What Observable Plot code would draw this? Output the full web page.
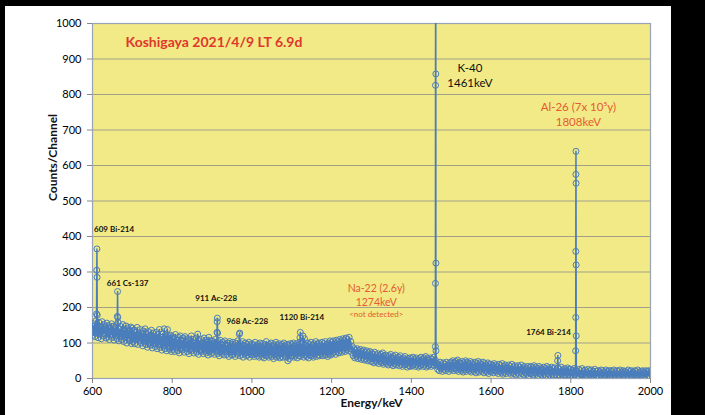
<!DOCTYPE html>
<html>
<head>
<meta charset="utf-8">
<script src="https://cdn.jsdelivr.net/npm/d3@7"></script>
<script src="https://cdn.jsdelivr.net/npm/@observablehq/plot@0.6"></script>
<style>
  html, body { margin: 0; padding: 0; background: #000; }
  body { width: 705px; height: 415px; overflow: hidden; position: relative; }
  #card { position: absolute; left: 5px; top: 6px; width: 666px; height: 409px; background: #fff; }
  svg { font-family: Lato, "Noto Sans", sans-serif; }
</style>
</head>
<body>
<div id="card"></div>
<script>
// ---- Data ----
const energyStep = 4;        // keV between samples within one array
const evenStart = 600;       // keV of first sample in baselineEven
const oddStart = 602;        // keV of first sample in baselineOdd
const baselineEven = [
  // 600-696
  155,148,162,150,158,145,160,152,146,156,149,142,154,147,140,151,158,138,146,152,136,148,142,134,145,
  // 700-796
  142,136,130,144,128,138,126,134,140,124,132,120,136,128,118,130,124,138,116,126,140,120,138,118,122,
  // 800-896
  118,112,124,108,116,120,106,114,118,104,112,108,120,110,102,114,125,106,110,100,114,108,104,116,106,
  // 900-996
  106,100,110,98,104,108,96,102,106,94,100,104,96,102,92,100,106,94,98,104,92,100,96,102,94,
  // 1000-1096
  98,94,102,92,96,100,90,98,94,104,92,96,100,90,96,102,94,98,92,96,100,90,96,94,98,
  // 1100-1196
  96,100,92,98,94,102,96,120,112,94,100,96,102,94,98,104,96,100,94,102,98,104,96,100,106,
  // 1200-1296
  102,106,100,108,104,110,106,112,108,114,110,116,104,90,84,80,84,78,82,76,80,74,78,72,76,
  // 1300-1396
  72,68,74,66,70,64,68,72,62,66,60,64,68,58,62,66,56,60,64,54,58,62,52,56,58,
  // 1400-1496
  56,60,54,58,52,56,60,54,58,62,56,52,58,54,60,52,44,40,46,38,44,40,46,38,44,
  // 1500-1596
  46,50,44,48,52,46,42,48,44,50,46,42,48,44,40,46,42,48,44,40,46,42,38,44,40,
  // 1600-1696
  40,36,42,38,34,40,36,42,34,38,32,38,34,40,32,36,30,36,32,38,30,34,28,34,30,
  // 1700-1796
  34,30,36,32,28,34,30,26,32,28,34,30,26,32,28,30,24,30,26,32,24,28,24,30,26,
  // 1800-1896
  26,22,28,24,20,26,22,28,20,24,18,26,22,24,20,26,20,22,18,24,22,18,24,20,22,
  // 1900-2000
  22,20,24,18,22,20,24,18,22,20,18,24,20,22,18,22,20,24,18,20,22,18,22,20,22,
  20
];
const baselineOdd = [
  // 602-698
  122,118,128,115,125,112,120,126,114,118,110,124,116,108,120,112,106,118,110,104,115,100,112,106,98,
  // 702-798
  104,98,110,96,106,100,92,104,96,88,100,94,86,98,90,84,96,88,80,92,84,78,90,82,76,
  // 802-898
  82,76,88,78,72,84,80,74,86,76,70,82,78,72,84,74,68,80,76,70,78,72,66,76,70,
  // 902-998
  74,68,78,70,64,74,70,66,76,68,62,72,66,70,62,68,74,64,68,60,70,64,66,60,68,
  // 1002-1098
  66,62,70,64,60,68,62,58,66,64,60,68,62,56,66,60,64,58,62,60,66,60,50,56,64,
  // 1102-1198
  64,60,66,58,64,62,68,60,66,62,58,66,64,60,68,62,66,64,70,64,68,66,62,70,66,
  // 1202-1298
  70,74,68,76,72,78,74,80,76,82,78,84,74,64,58,62,56,60,54,58,52,56,50,54,48,
  // 1302-1398
  48,44,50,46,42,48,44,40,46,42,38,44,40,36,42,38,44,36,40,34,38,42,32,36,34,
  // 1402-1498
  36,40,34,38,32,36,40,34,38,32,36,40,34,38,36,40,26,22,28,20,26,22,28,20,26,
  // 1502-1598
  26,22,28,24,20,26,22,18,24,20,26,22,18,24,20,16,22,18,24,20,16,22,18,14,20,
  // 1602-1698
  20,16,22,18,14,20,16,12,18,14,20,16,12,18,14,10,16,12,18,14,10,16,12,8,14,
  // 1702-1798
  14,10,16,12,8,14,10,6,12,8,14,10,6,12,8,12,8,10,6,12,8,10,6,10,8,
  // 1802-1898
  8,6,10,4,8,6,10,6,4,8,6,10,4,8,6,4,8,6,10,4,6,8,4,6,8,
  // 1902-1998
  6,4,8,4,6,8,4,6,8,4,6,4,8,6,4,6,8,4,6,8,4,6,4,8,6
];
// peak channels (energy keV, counts)
const peakEnergy = [
  610.3, 610.7, 611.1, 611.5, 611.9,
  662.3, 662.9, 663.5,
  912.3, 912.8, 913.3, 913.8,
  968.5, 969.3,
  1120.6, 1121.4,
  1460.2, 1460.4, 1460.6, 1460.9, 1461.2, 1461.4, 1461.6, 1461.8,
  1767.0, 1767.6,
  1812.2, 1812.4, 1812.6, 1812.8, 1813.0, 1813.2, 1813.4, 1813.6
];
const peakCounts = [
  182, 305, 365, 285, 178,
  175, 245, 172,
  130, 160, 170, 128,
  125, 128,
  115, 130,
  90, 268, 826, 1150, 1180, 858, 325, 78,
  50, 65,
  78, 172, 358, 575, 640, 550, 320, 120
];

const yTicks = [0,100,200,300,400,500,600,700,800,900,1000];
const xTicks = [600,800,1000,1200,1400,1600,1800,2000];

const title = "Koshigaya 2021/4/9 LT 6.9d";
const smallLabels = ["609 Bi-214", "661 Cs-137", "911 Ac-228", "968 Ac-228", "1120 Bi-214", "1764 Bi-214"];
const smallLabelE = [604, 636, 858, 936, 1069, 1688];
const smallLabelC = [420, 269, 226, 161, 173, 130];

const naLines = ["Na-22 (2.6y)", "1274keV"];
const naLineC = [252, 215];
const naNote = "<not detected>";
const naE = 1312, naNoteC = 180;

const kLines = ["K-40", "1461keV"];
const kLineC = [873, 831];
const kE = 1547;

const alLines = ["Al-26 (7x 10\u2075y)", "1808keV"];
const alLineC = [763, 721];
const alE = 1819;

// ---- Build table ----
const spectrum = baselineEven.map((c, i) => ({e: evenStart + i * energyStep, c}))
  .concat(baselineOdd.map((c, i) => ({e: oddStart + i * energyStep, c})))
  .concat(peakEnergy.map((e, i) => ({e, c: peakCounts[i]})))
  .sort((a, b) => a.e - b.e);

const blue = "#4a7dbb";
const red = "#e0372d";
const orange = "#e65a33";

const chart = Plot.plot({
  width: 666,
  height: 409,
  marginLeft: 87,
  marginRight: 21,
  marginTop: 17,
  marginBottom: 37,
  x: {domain: [600, 2000]},
  y: {domain: [0, 1000]},
  style: {fontFamily: "Lato, 'Noto Sans', sans-serif", background: "transparent"},
  marks: [
    Plot.frame({fill: "#f1ea86", stroke: null}),
    Plot.gridY(yTicks, {stroke: "#a3a08a", strokeOpacity: 1, strokeWidth: 1}),
    Plot.frame({stroke: "#98a4b6", strokeWidth: 1.2}),
    Plot.line(spectrum, {x: "e", y: "c", stroke: blue, strokeWidth: 1.5, clip: true}),
    Plot.dot(spectrum, {x: "e", y: "c", r: 3, stroke: blue, strokeWidth: 1, fill: "none", clip: true}),
    Plot.text([title], {x: 683, y: 947, text: d => d, textAnchor: "start", fill: red, fontSize: 14, fontWeight: "bold"}),
    Plot.text(smallLabels, {x: (d, i) => smallLabelE[i], y: (d, i) => smallLabelC[i], text: d => d, textAnchor: "start", fill: "#111", fontSize: 8, fontWeight: "bold"}),
    Plot.text(naLines, {x: naE, y: (d, i) => naLineC[i], text: d => d, fill: orange, fontSize: 10.5}),
    Plot.text([naNote], {x: naE, y: naNoteC, text: d => d, fill: orange, fontSize: 8}),
    Plot.text(kLines, {x: kE, y: (d, i) => kLineC[i], text: d => d, fill: "#111", fontSize: 11.5}),
    Plot.text(alLines, {x: alE, y: (d, i) => alLineC[i], text: d => d, fill: orange, fontSize: 11.5}),
    Plot.axisY({ticks: yTicks, tickFormat: "d", tickSize: 5, tickPadding: 6, fontSize: 11, stroke: "#888", label: null}),
    Plot.axisX({ticks: xTicks, tickFormat: "d", tickSize: 5, tickPadding: 4, fontSize: 11, stroke: "#888", label: null}),
    Plot.text(["Counts/Channel"], {frameAnchor: "left", dx: -39, rotate: -90, text: d => d, fontSize: 12, fontWeight: "bold", fill: "#111"}),
    Plot.text(["Energy/keV"], {frameAnchor: "bottom", dy: 28, text: d => d, fontSize: 12, fontWeight: "bold", fill: "#111"})
  ]
});
document.getElementById("card").appendChild(chart);
</script>
</body>
</html>
